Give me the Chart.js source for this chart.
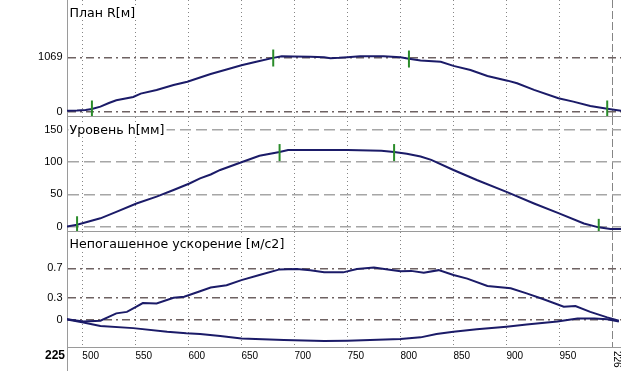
<!DOCTYPE html>
<html><head><meta charset="utf-8">
<script src="https://cdn.jsdelivr.net/npm/chart.js@4"></script>
<style>
html,body{margin:0;padding:0;background:#fff;}
#wrap{position:relative;width:621px;height:371px;overflow:hidden;background:#fff;}
canvas{position:absolute;left:0;}
</style></head><body>
<div id="wrap">
<canvas id="c1" width="621" height="117" style="top:0px"></canvas>
<canvas id="c2" width="621" height="115" style="top:117px"></canvas>
<canvas id="c3" width="621" height="139" style="top:232px"></canvas>
</div>
<script>
// ---- data ----
const xTicks = [500, 550, 600, 650, 700, 750, 800, 850, 900, 950, 1000];
const kmStartLabel = '225';
const kmEndLabel = '226';
const kmEndPos = 1000;

const planTitle = 'План R[м]';
const planTicks = [0, 1069];
const planX = [485, 495, 503, 509, 517, 525, 532, 548, 555, 570, 586, 599, 611, 621, 636, 650, 665, 680, 688, 699, 715, 728, 734, 742, 750, 762, 784, 800, 808, 819, 838, 850, 866, 882, 901, 910, 926, 949, 963, 979, 995, 1008];
const planR = [20, 22, 35, 55, 100, 170, 225, 290, 355, 425, 525, 590, 672, 740, 830, 912, 985, 1058, 1088, 1085, 1080, 1068, 1052, 1058, 1070, 1090, 1092, 1068, 1042, 1005, 982, 900, 818, 702, 610, 560, 428, 265, 198, 112, 60, 20];
const planMarkX = [509, 680, 808, 995];
const planMarkR = [53, 1055, 1035, 53];

const levelTitle = 'Уровень h[мм]';
const levelTicks = [0, 50, 100, 150];
const levelX = [485, 495, 517, 532, 551, 570, 586, 601, 611, 621, 630, 650, 667, 686, 694, 720, 750, 782, 794, 806, 819, 829, 850, 872, 900, 926, 949, 973, 987, 998, 1008];
const levelH = [0, 3, 13, 23, 36, 46.6, 57, 67, 75, 81, 88, 100, 110, 116, 119, 119, 119, 118, 116, 113, 109, 103.6, 88, 72.5, 54, 36, 21, 5, -1, -3.5, -3.5];
const levelMarkX = [495, 686, 794, 987];
const levelMarkH = [3, 115, 115, -1];

const accTitle = 'Непогашенное ускорение [м/c2]';
const accTicks = [0, 0.3, 0.7];
const accUpX = [485, 501, 517, 532, 542, 551, 557, 570, 586, 596, 611, 621, 626, 636, 650, 667, 686, 702, 715, 728, 746, 759, 775, 788, 800, 810, 822, 836, 850, 863, 882, 904, 919, 935, 954, 965, 979, 995, 1006];
const accUp = [0.01, -0.02, -0.01, 0.09, 0.11, 0.18, 0.23, 0.225, 0.3, 0.315, 0.39, 0.44, 0.45, 0.47, 0.54, 0.61, 0.685, 0.69, 0.675, 0.645, 0.645, 0.69, 0.71, 0.685, 0.66, 0.665, 0.64, 0.675, 0.61, 0.56, 0.46, 0.43, 0.36, 0.28, 0.18, 0.19, 0.11, 0.035, -0.01];
const accLowX = [485, 501, 517, 548, 580, 598, 611, 630, 650, 690, 728, 750, 800, 819, 834, 850, 872, 900, 919, 948, 967, 983, 995, 1006];
const accLow = [0.01, -0.035, -0.08, -0.11, -0.16, -0.18, -0.19, -0.216, -0.25, -0.27, -0.285, -0.28, -0.257, -0.235, -0.19, -0.16, -0.126, -0.09, -0.06, -0.02, 0.02, 0.02, 0.01, -0.02];

// ---- styles ----
const LINE = '#1b1b68';
const MARK = '#2a8c2a';
const FONT = '"Liberation Sans", Arial, sans-serif';
const TITLE_FONT = '12.6px "DejaVu Sans", Verdana, sans-serif';

const pts = (xs, ys) => xs.map((x, i) => ({x, y: ys[i]}));

const titlePlugin = {
  id: 'panelTitle',
  beforeDatasetsDraw(chart, args, opts) {
    const {ctx, chartArea} = chart;
    ctx.save();
    ctx.font = TITLE_FONT;
    const w = ctx.measureText(opts.text).width;
    ctx.fillStyle = '#fff';
    ctx.fillRect(chartArea.left + 1.5, chartArea.top + opts.baseline - 11, w + 3, 14);
    ctx.fillStyle = '#000';
    ctx.textAlign = 'left';
    ctx.textBaseline = 'alphabetic';
    ctx.fillText(opts.text, chartArea.left + 2.5, chartArea.top + opts.baseline);
    ctx.restore();
  }
};

const kmPlugin = {
  id: 'kmLabels',
  afterDraw(chart, args, opts) {
    if (!opts.show) return;
    const {ctx, chartArea} = chart;
    const xs = chart.scales.x;
    ctx.save();
    ctx.strokeStyle = '#9a9a9a';
    ctx.lineWidth = 1;
    ctx.beginPath();
    ctx.moveTo(67.5, chartArea.bottom);
    ctx.lineTo(67.5, chart.height);
    ctx.stroke();
    ctx.fillStyle = '#000';
    ctx.font = 'bold 12px ' + FONT;
    ctx.textAlign = 'right';
    ctx.textBaseline = 'alphabetic';
    ctx.fillText(kmStartLabel, 65, chartArea.bottom + 11.5);
    ctx.font = '10px ' + FONT;
    ctx.translate(xs.getPixelForValue(kmEndPos) + 1.5, chartArea.bottom + 4);
    ctx.rotate(Math.PI / 2);
    ctx.textAlign = 'left';
    ctx.fillText(kmEndLabel, 0, 0);
    ctx.restore();
  }
};

function makePanel(id, o) {
  const datasets = [
    {data: pts(o.markX, o.markY), showLine: false, pointStyle: 'line', pointRotation: 90,
     pointRadius: 8.5, pointHoverRadius: 8.5, pointBorderColor: MARK, pointBorderWidth: 2, borderColor: MARK}
  ];
  o.series.forEach(s => datasets.push({data: s, borderColor: LINE, borderWidth: 2, pointRadius: 0, tension: 0, fill: false}));
  return new Chart(document.getElementById(id), {
    type: 'line',
    data: {datasets},
    plugins: [titlePlugin, kmPlugin],
    options: {
      responsive: false, animation: false, events: [],
      layout: {padding: 0, autoPadding: false},
      plugins: {legend: {display: false}, tooltip: {enabled: false},
        panelTitle: {text: o.title, baseline: o.titleBase},
        kmLabels: {show: !!o.bottom}},
      scales: {
        x: {
          type: 'linear', min: 485.5, max: 1008,
          afterBuildTicks: s => { s.ticks = xTicks.map(v => ({value: v})); },
          afterFit: s => { s.height = o.bottom ? 24 : 1; s.paddingLeft = 0; s.paddingRight = 0; },
          ticks: {display: !!o.bottom, autoSkip: false, maxRotation: 0, minRotation: 0, align: 'start', padding: 3,
                  color: '#000', font: {family: FONT, size: 10},
                  callback: v => (v === kmEndPos ? '' : String(v))},
          grid: {drawTicks: false, color: '#858585', lineWidth: 1},
          border: {display: true, color: '#9a9a9a', width: 1,
                   dash: c => (c.type === 'tick' ? (c.tick && c.tick.value === kmEndPos ? [8, 3] : [1, 3]) : [])}
        },
        y: {
          type: 'linear', min: o.min, max: o.max,
          afterBuildTicks: s => { s.ticks = o.ticks.map(v => ({value: v})); },
          afterFit: s => { s.width = 67; s.paddingTop = 0; s.paddingBottom = 0; },
          ticks: {autoSkip: false, padding: 4.5, color: '#000', font: {family: FONT, size: 11},
                  callback: v => String(v)},
          grid: {drawTicks: false, color: o.gridColor, lineWidth: o.gridWidth},
          border: {display: true, color: '#9a9a9a', width: 1,
                   dash: c => (c.type === 'tick' ? o.dash : [])}
        }
      }
    }
  });
}

makePanel('c1', {title: planTitle, titleBase: 17, ticks: planTicks, min: -84.5, max: 2195,
  series: [pts(planX, planR)], markX: planMarkX, markY: planMarkR,
  gridColor: '#6e6262', gridWidth: 1.4, dash: [8, 4, 2, 4]});
makePanel('c2', {title: levelTitle, titleBase: 16.5, ticks: levelTicks, min: -6.67, max: 170.17,
  series: [pts(levelX, levelH)], markX: levelMarkX, markY: levelMarkH,
  gridColor: '#a6a6a6', gridWidth: 1.5, dash: [11, 5]});
makePanel('c3', {title: accTitle, titleBase: 15.5, ticks: accTicks, min: -0.3656, max: 1.1915,
  series: [pts(accUpX, accUp), pts(accLowX, accLow)], markX: [], markY: [],
  gridColor: '#6e6262', gridWidth: 1.4, dash: [8, 4, 2, 4], bottom: true});
</script>
</body></html>
